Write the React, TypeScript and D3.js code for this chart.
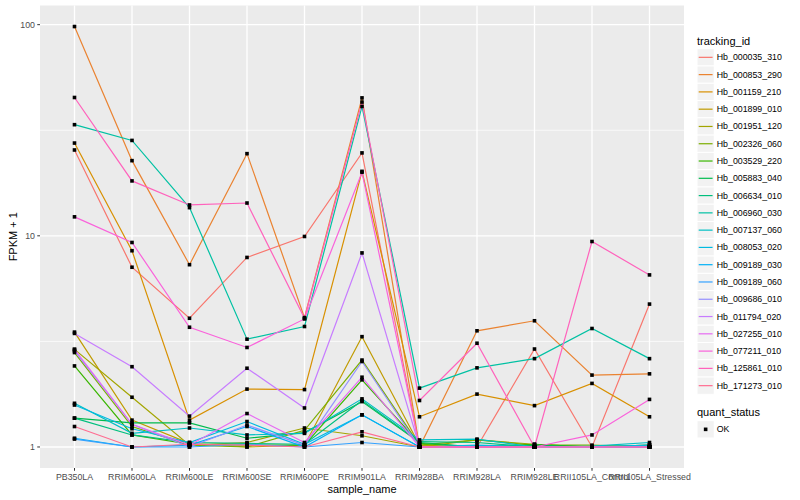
import * as d3 from 'd3';

const SAMPLES = [
  'PB350LA', 'RRIM600LA', 'RRIM600LE', 'RRIM600SE', 'RRIM600PE', 'RRIM901LA',
  'RRIM928BA', 'RRIM928LA', 'RRIM928LE', 'RRII105LA_Control', 'RRII105LA_Stressed',
];

const IDS = [
  'Hb_000035_310', 'Hb_000853_290', 'Hb_001159_210', 'Hb_001899_010', 'Hb_001951_120',
  'Hb_002326_060', 'Hb_003529_220', 'Hb_005883_040', 'Hb_006634_010', 'Hb_006960_030',
  'Hb_007137_060', 'Hb_008053_020', 'Hb_009189_030', 'Hb_009189_060', 'Hb_009686_010',
  'Hb_011794_020', 'Hb_027255_010', 'Hb_077211_010', 'Hb_125861_010', 'Hb_171273_010',
];

// FPKM + 1, one row per tracking_id, in SAMPLES order
const VALUES: number[][] = [
  [25.5, 7.1, 4.07, 7.9, 9.93, 24.7, 1.0, 1.0, 2.91, 1.0, 4.75],
  [98, 22.7, 7.3, 24.5, 4.1, 45, 1.0, 3.55, 3.96, 2.19, 2.22],
  [27.5, 8.5, 1.34, 1.88, 1.87, 20.2, 1.39, 1.78, 1.57, 2.0, 1.39],
  [3.5, 1.34, 1.04, 1.0, 1.02, 3.33, 1.02, 1.0, 1.0, 1.0, 1.02],
  [2.9, 1.72, 1.02, 1.05, 1.23, 1.13, 1.0, 1.08, 1.03, 1.0, 1.0],
  [2.8, 1.25, 1.02, 1.0, 1.2, 2.58, 1.02, 1.08, 1.02, 1.02, 1.0],
  [2.42, 1.14, 1.03, 1.02, 1.02, 2.08, 1.04, 1.0, 1.03, 1.0, 1.0],
  [1.37, 1.3, 1.3, 1.1, 1.17, 1.64, 1.05, 1.0, 1.02, 1.0, 1.0],
  [1.37, 1.14, 1.05, 1.04, 1.03, 1.66, 1.06, 1.05, 1.0, 1.0, 1.02],
  [33.6, 28.3, 13.6, 3.24, 3.72, 41, 1.9, 2.37, 2.62, 3.64, 2.62],
  [1.61, 1.16, 1.23, 1.14, 1.16, 1.69, 1.08, 1.09, 1.0, 1.01, 1.05],
  [1.58, 1.22, 1.05, 1.32, 1.03, 1.42, 1.0, 1.02, 1.0, 1.0, 1.02],
  [1.1, 1.0, 1.02, 1.25, 1.0, 1.42, 1.0, 1.0, 1.0, 1.0, 1.0],
  [1.09, 1.0, 1.0, 1.03, 1.0, 1.05, 1.0, 1.0, 1.0, 1.0, 1.0],
  [2.85, 1.28, 1.0, 1.27, 1.02, 2.54, 1.0, 1.0, 1.0, 1.0, 1.0],
  [3.45, 2.4, 1.4, 2.36, 1.53, 8.3, 1.0, 1.0, 1.0, 1.0, 1.0],
  [2.9, 1.28, 1.02, 1.44, 1.05, 2.14, 1.0, 1.0, 1.0, 1.0, 1.0],
  [12.3, 9.3, 3.69, 2.96, 4.04, 20, 1.0, 1.0, 1.0, 1.14, 1.68],
  [45.2, 18.2, 14.0, 14.3, 4.07, 43, 1.66, 3.1, 1.0, 9.4, 6.53],
  [1.25, 1.0, 1.03, 1.02, 1.0, 1.18, 1.0, 1.0, 1.0, 1.0, 1.0],
];

const COLORS = [
  '#F8766D', '#EA8331', '#D89000', '#C09B00', '#A3A500', '#7CAE00', '#39B600', '#00BB4E',
  '#00BF7D', '#00C1A3', '#00BFC4', '#00BAE0', '#00B0F6', '#35A2FF', '#9590FF', '#C77CFF',
  '#E76BF3', '#FA62DB', '#FF62BC', '#FF6C91',
];

const Y_MAJOR = [1, 10, 100];
const Y_MINOR = [Math.pow(10, 0.5), Math.pow(10, 1.5)];
const STATUS = ['OK'];

const FONT = '"Liberation Sans", Arial, Helvetica, sans-serif';

export default function App() {
  const W = 800;
  const H = 500;
  const panel = { left: 40, right: 684, top: 5.5, bottom: 468 };

  const x = d3.scalePoint<string>()
    .domain(SAMPLES)
    .range([panel.left, panel.right])
    .padding(0.6);

  // ggplot-style 5% expansion in log space
  const all = VALUES.flat();
  const [lo, hi] = d3.extent(all) as [number, number];
  const l0 = Math.log10(lo);
  const l1 = Math.log10(hi);
  const pad = (l1 - l0) * 0.05;
  const y = d3.scaleLog()
    .domain([Math.pow(10, l0 - pad), Math.pow(10, l1 + pad)])
    .range([panel.bottom, panel.top]);

  const line = d3.line<number>()
    .x((_, i) => x(SAMPLES[i]) ?? 0)
    .y(v => y(v));

  const legendX = 697;
  const keySize = 17.28;
  const keyTop = 48.7;

  return (
    <svg width={W} height={H} style={{ position: 'absolute', left: 0, top: 0, background: '#fff' }} fontFamily={FONT}>
      {/* panel */}
      <rect x={panel.left} y={panel.top} width={panel.right - panel.left} height={panel.bottom - panel.top} fill="#EBEBEB" />
      {Y_MINOR.map(t => (
        <line key={`mi${t}`} x1={panel.left} x2={panel.right} y1={y(t)} y2={y(t)} stroke="#fff" strokeWidth={0.7} />
      ))}
      {Y_MAJOR.map(t => (
        <line key={`ma${t}`} x1={panel.left} x2={panel.right} y1={y(t)} y2={y(t)} stroke="#fff" strokeWidth={1.3} />
      ))}
      {SAMPLES.map(s => (
        <line key={`gx${s}`} x1={x(s)} x2={x(s)} y1={panel.top} y2={panel.bottom} stroke="#fff" strokeWidth={1.3} />
      ))}

      {/* lines */}
      {VALUES.map((vals, i) => (
        <path key={IDS[i]} d={line(vals) ?? ''} fill="none" stroke={COLORS[i]} strokeWidth={1.2} />
      ))}

      {/* points */}
      {VALUES.map((vals, i) => vals.map((v, j) => (
        <rect key={`${i}-${j}`} x={(x(SAMPLES[j]) ?? 0) - 1.8} y={y(v) - 1.8} width={3.6} height={3.6} fill="#000" />
      )))}

      {/* y axis */}
      {Y_MAJOR.map(t => (
        <g key={`yt${t}`}>
          <line x1={panel.left - 2.75} x2={panel.left} y1={y(t)} y2={y(t)} stroke="#333" strokeWidth={1} />
          <text x={panel.left - 5} y={y(t)} textAnchor="end" dominantBaseline="central" fontSize={8.8} fill="#4D4D4D">{t}</text>
        </g>
      ))}
      <text transform={`translate(13,${(panel.top + panel.bottom) / 2}) rotate(-90)`} textAnchor="middle" dominantBaseline="central" fontSize={11} fill="#000">
        FPKM + 1
      </text>

      {/* x axis */}
      {SAMPLES.map(s => (
        <g key={`xt${s}`}>
          <line x1={x(s)} x2={x(s)} y1={panel.bottom} y2={panel.bottom + 2.75} stroke="#333" strokeWidth={1} />
          <text x={x(s)} y={panel.bottom + 9.3} textAnchor="middle" dominantBaseline="central" fontSize={8.8} fill="#4D4D4D">{s}</text>
        </g>
      ))}
      <text x={(panel.left + panel.right) / 2} y={488.5} textAnchor="middle" dominantBaseline="central" fontSize={11} fill="#000">
        sample_name
      </text>

      {/* legend: tracking_id */}
      <text x={legendX} y={40.5} dominantBaseline="central" fontSize={11} fill="#000">tracking_id</text>
      {IDS.map((id, i) => {
        const ty = keyTop + i * keySize;
        return (
          <g key={`lg${id}`}>
            <rect x={legendX} y={ty} width={keySize} height={keySize} fill="#F2F2F2" stroke="#fff" strokeWidth={1} />
            <line x1={legendX + 1.7} x2={legendX + keySize - 1.7} y1={ty + keySize / 2} y2={ty + keySize / 2} stroke={COLORS[i]} strokeWidth={1.2} />
            <text x={legendX + keySize + 2.5} y={ty + keySize / 2} dominantBaseline="central" fontSize={8.8} fill="#000">{id}</text>
          </g>
        );
      })}

      {/* legend: quant_status */}
      <text x={legendX} y={412.3} dominantBaseline="central" fontSize={11} fill="#000">quant_status</text>
      {STATUS.map((s, i) => {
        const ty = 420.7 + i * keySize;
        return (
          <g key={`st${s}`}>
            <rect x={legendX} y={ty} width={keySize} height={keySize} fill="#F2F2F2" stroke="#fff" strokeWidth={1} />
            <rect x={legendX + keySize / 2 - 1.8} y={ty + keySize / 2 - 1.8} width={3.6} height={3.6} fill="#000" />
            <text x={legendX + keySize + 2.5} y={ty + keySize / 2} dominantBaseline="central" fontSize={8.8} fill="#000">{s}</text>
          </g>
        );
      })}
    </svg>
  );
}
